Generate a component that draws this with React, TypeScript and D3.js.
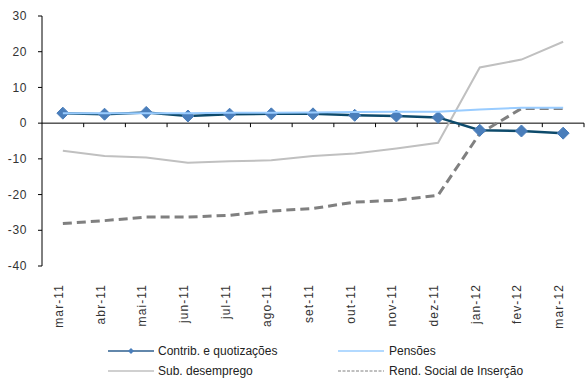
import React from "react";
import * as d3 from "d3";

const categories = ["mar-11","abr-11","mai-11","jun-11","jul-11","ago-11","set-11","out-11","nov-11","dez-11","jan-12","fev-12","mar-12"];
const contrib = [2.8, 2.5, 3.0, 2.0, 2.5, 2.6, 2.6, 2.2, 2.0, 1.6, -2.0, -2.2, -2.8];
const pensoes = [2.8, 2.8, 2.8, 2.8, 2.9, 2.9, 3.0, 3.1, 3.2, 3.2, 3.8, 4.3, 4.3];
const subDesemprego = [-7.7, -9.2, -9.6, -11.1, -10.7, -10.4, -9.2, -8.5, -7.1, -5.5, 15.6, 17.8, 22.8];
const rsi = [-28.1, -27.3, -26.3, -26.3, -25.8, -24.6, -23.9, -22.1, -21.6, -20.2, -2.9, 4.1, 4.1];
const yTicks = [30, 20, 10, 0, -10, -20, -30, -40];

export default function App() {
  const W = 585, H = 378;
  const left = 42, right = 584, top = 16, bottom = 266;
  const x = d3.scaleBand<string>().domain(categories).range([left, right]);
  const y = d3.scaleLinear().domain([-40, 30]).range([bottom, top]);
  const cx = (i: number) => (x(categories[i]) as number) + x.bandwidth() / 2;
  const line = (vals: number[]) =>
    d3.line<number>().x((_, i) => cx(i)).y((v) => y(v))(vals) as string;
  const font = "'Liberation Sans', Arial, sans-serif";
  const y0 = y(0);
  const diamond = (px: number, py: number, r: number) =>
    `M${px},${py - r}L${px + r},${py}L${px},${py + r}L${px - r},${py}Z`;
  const r1 = 351, r2 = 371;

  return (
    <svg width={W} height={H} style={{ position: "absolute", left: 0, top: 0 }} fontFamily={font}>
      {/* y axis */}
      <line x1={left} x2={left} y1={top} y2={bottom} stroke="#000" strokeWidth={1} />
      {yTicks.map((t) => (
        <g key={t}>
          <line x1={left - 4} x2={left} y1={y(t)} y2={y(t)} stroke="#000" />
          <text x={27} y={y(t)} dy="0.35em" textAnchor="end" fontSize={12} letterSpacing={0.6} fill="#333">{t}</text>
        </g>
      ))}
      {/* x axis at zero */}
      <line x1={left} x2={right} y1={y0} y2={y0} stroke="#000" />
      {categories.map((c) => (
        <line key={c} x1={(x(c) as number) + x.bandwidth()} x2={(x(c) as number) + x.bandwidth()} y1={y0} y2={y0 + 4} stroke="#000" />
      ))}
      {categories.map((c, i) => (
        <text key={c} transform={`translate(${cx(i) + 0},${284}) rotate(-90)`} textAnchor="end" fontSize={12} letterSpacing={1.1} fill="#333">{c}</text>
      ))}
      {/* series */}
      <path d={line(subDesemprego)} fill="none" stroke="#c0c0c0" strokeWidth={2} />
      <path d={line(rsi)} fill="none" stroke="#808080" strokeWidth={3} strokeDasharray="9,5" />
      <path d={line(contrib)} fill="none" stroke="#0d4a6b" strokeWidth={2.5} />
      {contrib.map((v, i) => (
        <path key={i} d={diamond(cx(i), y(v), 6)} fill="#4a7ebb" stroke="#4a7ebb" />
      ))}
      <path d={line(pensoes)} fill="none" stroke="#99ccff" strokeWidth={2} />
      {/* legend */}
      <line x1={108} x2={154} y1={r1} y2={r1} stroke="#2e5f8f" strokeWidth={1.5} />
      <path d={diamond(131, r1, 3)} fill="#4a7ebb" />
      <text x={158} y={r1} dy="0.35em" fontSize={12} fill="#222">Contrib. e quotizações</text>
      <line x1={338} x2={384} y1={r1} y2={r1} stroke="#99ccff" strokeWidth={1.5} />
      <text x={389} y={r1} dy="0.35em" fontSize={12} fill="#222">Pensões</text>
      <line x1={108} x2={154} y1={r2} y2={r2} stroke="#c0c0c0" strokeWidth={1.5} />
      <text x={158} y={r2} dy="0.35em" fontSize={12} fill="#222">Sub. desemprego</text>
      <line x1={338} x2={384} y1={r2} y2={r2} stroke="#808080" strokeWidth={1} strokeDasharray="3,1.5" />
      <text x={389} y={r2} dy="0.35em" fontSize={12} fill="#222">Rend. Social de Inserção</text>
    </svg>
  );
}
